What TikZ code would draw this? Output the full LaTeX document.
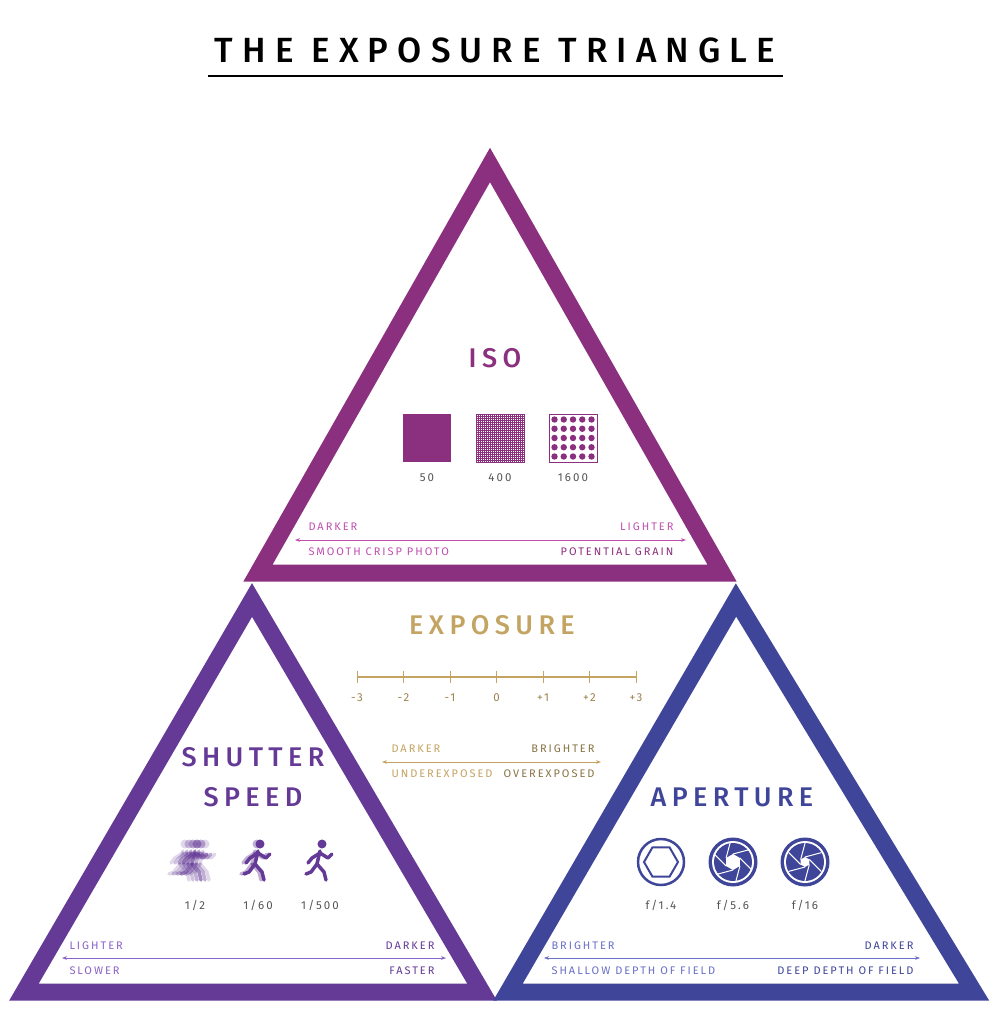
\documentclass[tikz,border=0pt]{standalone}
\usepackage{fontspec}
\setmainfont{Fira Sans}
\newfontfamily\ttlfont[LetterSpace=26]{Fira Sans Medium}
\newfontfamily\bigfont[LetterSpace=20]{Fira Sans Medium}
\newfontfamily\smfont[LetterSpace=18]{Fira Sans}
\usetikzlibrary{arrows.meta}
\definecolor{isoc}{HTML}{8B2F7F}
\definecolor{isol}{HTML}{C050B0}
\definecolor{shc}{HTML}{653A97}
\definecolor{shl}{HTML}{8A62C8}
\definecolor{apc}{HTML}{3F4699}
\definecolor{apl}{HTML}{6A70C8}
\definecolor{gold}{HTML}{C4A463}
\definecolor{gtx}{HTML}{555555}
\tikzset{
 tri/.style={line width=17pt,line join=miter},
 small/.style={font=\smfont\fontsize{11pt}{12pt}\selectfont},
 lbl/.style={font=\smfont\fontsize{11.5pt}{12pt}\selectfont,text=gtx},
 heading/.style={font=\bigfont\fontsize{27pt}{30pt}\selectfont},
 dbl/.style={{Stealth[length=5pt]}-{Stealth[length=5pt]},line width=0.8pt},
}
\begin{document}
\begin{tikzpicture}[x=1pt,y=-1pt]
\useasboundingbox[fill=white] (0,0) rectangle (989,1023);
% title
\node[font=\ttlfont\fontsize{35pt}{38pt}\selectfont] (title) at (495,50) {THE EXPOSURE TRIANGLE};
\draw[line width=1.5pt] (208,76) -- (783,76);
% triangles
\draw[tri,isoc] (490,165) -- (258,573) -- (722,573) -- cycle;
\draw[tri,shc] (252,600) -- (24,992) -- (482,992) -- cycle;
\draw[tri,apc] (736,600) -- (508,992) -- (974,992) -- cycle;
% ISO
\node[heading,text=isoc] (iso) at (495,358) {ISO};
\fill[isoc] (403,414) rectangle (451,462);
\begin{scope}
\clip (476,414) rectangle (524,462);
\foreach \i in {0,2,...,48}{\draw[isoc,line width=0.5pt] (476+\i,414)--(476+\i,462); \draw[isoc,line width=0.5pt] (476,414+\i)--(524,414+\i);}
\end{scope}
\draw[isoc,line width=0.8pt] (476,414) rectangle (524,462);
\draw[isoc,line width=1pt] (549,414) rectangle (597,462);
\foreach \i in {0,...,4}{\foreach \j in {0,...,4}{\fill[isoc] (554.5+9.25*\i,419.5+9.25*\j) circle (3.2);}}
\node[lbl] (i50) at (427,478) {50};
\node[lbl] (i400) at (500,478) {400};
\node[lbl] (i1600) at (573,478) {1600};
\coordinate (ia) at (295,540); \coordinate (ib) at (686,540);
\draw[dbl,isol] (ia) -- (ib);
\node[small,text=isol,anchor=west] (id) at (305,527) {DARKER};
\node[small,text=isol,anchor=east] (il) at (677,527) {LIGHTER};
\node[small,text=isol,anchor=west] (is) at (305,552) {SMOOTH CRISP PHOTO};
\node[small,text=isoc,anchor=east] (ig) at (677,552) {POTENTIAL GRAIN};
% exposure
\node[heading,text=gold] (exp) at (492,625) {EXPOSURE};
\coordinate (ea) at (357,677); \coordinate (eb) at (636,677);
\draw[gold,line width=1.3pt] (ea) -- (eb);
\foreach \v [count=\k from 0] in {-3,-2,-1,0,+1,+2,+3}{
 \draw[gold,line width=1pt] (357+46.5*\k,671)--(357+46.5*\k,683);
 \node[lbl,text=gold!80!black] (e\k) at (357+46.5*\k,698) {\v};}
\coordinate (ec) at (382,762); \coordinate (ed) at (601,762);
\draw[dbl,gold] (ec) -- (ed);
\node[small,text=gold,anchor=west] (edk) at (388,749) {DARKER};
\node[small,text=gold!70!black,anchor=east] (ebr) at (598,749) {BRIGHTER};
\node[small,text=gold,anchor=west] (eun) at (388,774) {UNDEREXPOSED};
\node[small,text=gold!70!black,anchor=east] (eov) at (598,774) {OVEREXPOSED};
% shutter
\node[heading,text=shc,align=center,font=\bigfont\fontsize{27pt}{40pt}\selectfont] (sh) at (253,777) {SHUTTER\\SPEED};
\newcommand\runner[2]{%
 \begin{scope}[shift={(#1,#2)},shc,line cap=round,line join=round,line width=3.5pt]
 \fill (2,-16) circle (4.5);
 \draw (0,-9) -- (-3,4);
 \draw (-3,4) -- (4,12) -- (6,20);
 \draw (-3,4) -- (-9,12) -- (-14,14);
 \draw (0,-7) -- (8,-2) -- (12,-6);
 \draw (0,-7) -- (-8,-2) -- (-12,3);
 \end{scope}}
\foreach \dx/\op in {-12/0.2,-8/0.3,-4/0.4,0/0.6,4/0.4,8/0.2}{\begin{scope}[opacity=\op]\runner{195+\dx}{860}\end{scope}}
\foreach \dx/\op in {-3/0.4,0/1}{\begin{scope}[opacity=\op]\runner{258+\dx}{860}\end{scope}}
\runner{320}{860}
\node[lbl] (s2) at (195,905) {1/2};
\node[lbl] (s60) at (258,905) {1/60};
\node[lbl] (s500) at (320,905) {1/500};
\coordinate (sa) at (62,958); \coordinate (sb) at (446,958);
\draw[dbl,shl] (sa) -- (sb);
\node[small,text=shl,anchor=west] (sl) at (66,946) {LIGHTER};
\node[small,text=shc,anchor=east] (sd) at (438,946) {DARKER};
\node[small,text=shl,anchor=west] (ss) at (66,971) {SLOWER};
\node[small,text=shc,anchor=east] (sf) at (438,971) {FASTER};
% aperture
\node[heading,text=apc] (ap) at (732,797) {APERTURE};
\draw[apc,line width=2.5pt] (661,862) circle (23);
\draw[apc,line width=2pt,fill=white] (661,862) +(0:17) -- +(60:17) -- +(120:17) -- +(180:17) -- +(240:17) -- +(300:17) -- cycle;
\foreach \cx/\r in {733/8,805/5}{
 \fill[apc] (\cx,862) circle (24.5);
 \fill[white] (\cx,862) circle (21);
 \fill[apc] (\cx,862) circle (19);
 \fill[white] (\cx,862) +(30:\r) -- +(90:\r) -- +(150:\r) -- +(210:\r) -- +(270:\r) -- +(330:\r) -- cycle;
 \foreach \a in {30,90,...,330}{\draw[white,line width=1pt] (\cx,862) ++(\a:\r) -- ++(\a+75:17);}
}
\node[lbl] (f1) at (661,905) {f/1.4};
\node[lbl] (f2) at (733,905) {f/5.6};
\node[lbl] (f3) at (805,905) {f/16};
\coordinate (aa) at (544,958); \coordinate (ab) at (920,958);
\draw[dbl,apl] (aa) -- (ab);
\node[small,text=apl,anchor=west] (abr) at (548,946) {BRIGHTER};
\node[small,text=apc,anchor=east] (adk) at (917,946) {DARKER};
\node[small,text=apl,anchor=west] (ash) at (548,971) {SHALLOW DEPTH OF FIELD};
\node[small,text=apc,anchor=east] (ade) at (917,971) {DEEP DEPTH OF FIELD};
\end{tikzpicture}
\end{document}
